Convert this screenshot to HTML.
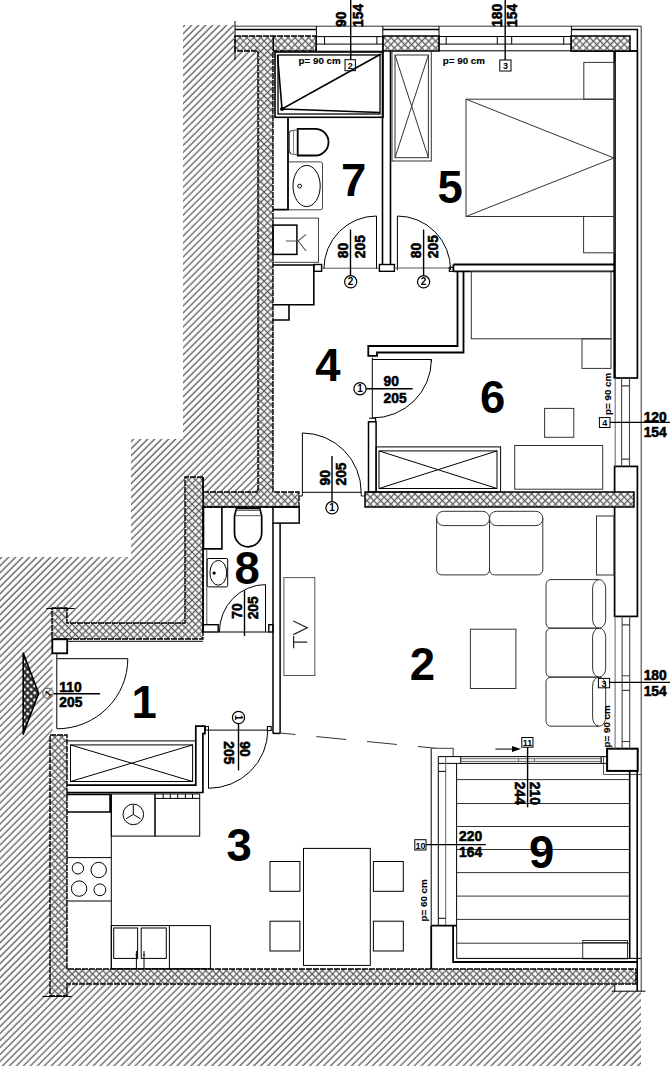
<!DOCTYPE html>
<html><head><meta charset="utf-8">
<style>
html,body{margin:0;padding:0;background:#fff;width:670px;height:1066px;overflow:hidden}
svg{display:block}
text{font-family:"Liberation Sans",sans-serif}
.rn{font-size:45.5px;font-weight:bold;fill:#000}
.dm{font-size:15px;font-weight:bold;fill:#000;stroke:#000;stroke-width:0.6px}
.pc{font-size:9.8px;font-weight:bold;fill:#000;stroke:#000;stroke-width:0.15px}
.bx{font-size:9px;font-weight:bold;fill:#000}
</style></head><body>
<svg width="670" height="1066" viewBox="0 0 670 1066">
<defs>
<pattern id="h" width="4.936" height="4.936" patternUnits="userSpaceOnUse" patternTransform="rotate(-45)">
<rect width="4.936" height="4.936" fill="#fff"/>
<line x1="-1" y1="0.28" x2="6" y2="0.28" stroke="#555" stroke-width="1.25"/><line x1="-1" y1="5.216" x2="6" y2="5.216" stroke="#555" stroke-width="1.25"/>
</pattern>
<pattern id="x" width="4.85" height="4.85" patternUnits="userSpaceOnUse" patternTransform="rotate(45)">
<rect width="4.85" height="4.85" fill="#fff"/>
<line x1="0" y1="2.4" x2="4.85" y2="2.4" stroke="#606060" stroke-width="1.35"/>
<line x1="2.4" y1="0" x2="2.4" y2="4.85" stroke="#606060" stroke-width="1.35"/>
</pattern>
<pattern id="dt" width="4.9" height="4.9" patternUnits="userSpaceOnUse" patternTransform="rotate(45)">
<rect width="4.9" height="4.9" fill="#fff"/>
<line x1="0" y1="2.45" x2="4.9" y2="2.45" stroke="#222" stroke-width="2.2"/>
<line x1="2.45" y1="0" x2="2.45" y2="4.9" stroke="#222" stroke-width="2.2"/>
</pattern>
</defs>

<!-- exterior hatch -->
<path d="M183,25 H234 V51 H258 V492 H185 V623 H67 V608 H52.5 V735 H50 V1066 H0 V557 H131 V439 H183 Z" fill="url(#h)"/>
<path d="M50,984.4 H614.8 V991.2 H641 V1066 H50 Z" fill="url(#h)"/>

<!-- right wall blocks -->
<g fill="#fff" stroke="#000" stroke-width="1.5">
<rect x="614.6" y="51" width="22.8" height="327" stroke-width="1.7"/>
<rect x="614.6" y="466.4" width="22.8" height="150" stroke-width="1.7"/>
<rect x="607.1" y="748.7" width="30.6" height="22.2" stroke-width="2"/>
</g>
<path d="M614.6,51 V378" stroke="#000" stroke-width="2.2"/>
<path d="M571,51 H637.4" stroke="#000" stroke-width="1.5"/>
<g fill="none" stroke="#000" stroke-width="1">
<path d="M615.2,378 V466.4 M615.1,616.4 V748.7" stroke="#666"/>
<path d="M621.6,378 V466.4 M629.5,378 V466.4 M621.6,385.9 H629.5 M621.6,459.1 H629.5" stroke="#444" stroke-width="1.1"/>
<path d="M622.1,616.4 V748.7 M629.7,616.4 V748.7 M622.1,624.9 H629.7 M622.1,675.7 H629.7 M622.1,690.4 H629.7 M622.1,741.5 H629.7" stroke="#444" stroke-width="1.1"/>
<path d="M603.5,757 V774.5 H641.6" stroke="#555"/>
<path d="M601.2,756.6 V763.4"/>
</g>
<path d="M629.7,771 V958.4 M637.2,771 V991.2" stroke="#000" stroke-width="1.6"/>
<g fill="url(#x)" stroke="#000" stroke-width="1.4" stroke-dasharray="6,1">
<path d="M235,36 H316 V51 H273 V492 H299 V507 H203 V639 H52 V608 H67 V623 H185 V477 H203 V492 H258 V51 H235 Z"/>
<path d="M383,36 H439 V51 H383 Z" stroke-dasharray="none" stroke-width="1.5"/>
<path d="M571,36 H630 V51 H571 Z" stroke-dasharray="none" stroke-width="1.5"/>
<path d="M365,492 H634 V507 H365 Z" stroke-dasharray="none" stroke-width="1.5"/>
<path d="M50,735 H67 V969 H636 V984 H67 V996 H50 Z"/>
</g>
<g fill="none" stroke="#000" stroke-width="1">
<!-- top exterior lines -->
<path d="M235,26.2 H641.2 V991" stroke="#333"/>
<path d="M235,29.5 H316 M383,29.5 H439 M571,29.5 H637.4 V51" stroke-width="1.5"/>
<path d="M235,21 V60"/>
<!-- window 1 -->
<path d="M316.4,26 V51 M382.8,26 V51 M316,36.6 H383 M316,44.1 H383 M316,51.2 H383 M324.6,36.6 V44.1 M376.9,36.6 V44.1"/>
<!-- window 2 -->
<path d="M439,26 V51 M571.4,26 V51 M439,36.5 H571 M439,44.1 H571 M439,50.8 H571 M446.2,36.5 V44.1 M497.3,36.5 V44.1 M511.7,36.5 V44.1 M563.7,36.5 V44.1"/>
</g>

<path d="M273.3,36 V51 M203,507 H299" stroke="#000" stroke-width="1.5"/>
<!-- ROOM 7 -->
<g fill="none" stroke="#000" stroke-width="1.6">
<rect x="275" y="52" width="108" height="65.3"/>
<rect x="278" y="55" width="102" height="59" stroke-width="1.3"/>
<path d="M277.5,55 L282,109 L381,54 M282,109 L380,112.5" stroke-width="1.6"/>
</g>
<circle cx="282" cy="109" r="2" fill="#000"/>
<g fill="none" stroke="#000" stroke-width="1.8">
<path d="M273,209.7 H288 V118"/>
<path d="M273,265 H313.8 V304.7 H273 M289,304.7 V320 H273" stroke-width="1.6"/>
</g>
<g fill="none" stroke="#000" stroke-width="1">
<!-- toilet -->
<path d="M297.7,128.8 H315.2 A13.3,13.35 0 0 1 315.2,155.5 H297.7 Z" stroke-width="1.8"/>
<path d="M297.7,130 L291.5,130.5 Q289.3,131 289.3,134 V150 Q289.3,153.5 291.5,154 L297.7,154.5" stroke="#555" stroke-width="1.2"/>
<path d="M293.5,131 V153.5" stroke="#888"/>
<!-- sink -->
<path d="M288.8,161.9 H320.5 Q322.5,161.9 322.5,164 V207.8 Q322.5,209.8 320.5,209.8 H288.8" stroke="#444"/>
<ellipse cx="306.6" cy="186" rx="13.6" ry="20.6"/>
<circle cx="299.6" cy="186.1" r="1.9"/>
<!-- washing machine -->
<rect x="273" y="218.1" width="45.5" height="44.2" stroke="#444"/>
<rect x="273" y="225.1" width="23.9" height="29.3" stroke-width="1.5"/>
<path d="M285.8,241 H298.2 L306,234.3 M298.2,241 L306,251" stroke="#555" stroke-width="1.1"/>
<!-- door room7 -->
<rect x="313.8" y="264.5" width="7.8" height="6.8" stroke-width="1.4"/>
<path d="M323.9,269 A52.6,53 0 0 1 376.5,216 V269"/>
<path d="M321.6,268.2 H379.4" stroke="#555"/>
<rect x="379.4" y="264.5" width="15" height="6.8" stroke-width="1.4"/>
<path d="M350.5,229.5 V275.7" stroke-width="1.4"/>
<circle cx="350.7" cy="281.8" r="6.1" stroke-width="1.2"/>
</g>
<g fill="none" stroke="#000" stroke-width="1.6">
<path d="M382.5,51 V264.5 M390.5,51 V264.5"/>
</g>
<text class="rn" x="340.9" y="196">7</text>

<!-- ROOM 5 -->
<g fill="none" stroke="#333" stroke-width="1">
<rect x="392" y="51" width="39.3" height="110"/>
<rect x="395" y="55" width="33.4" height="102.7"/>
<path d="M395,55 L428.4,157.7 M428.4,55 L395,157.7"/>
<rect x="466" y="99.2" width="148.5" height="117.3"/>
<path d="M466,99.2 L614,158 L466,216.5"/>
<rect x="583.8" y="62.4" width="30.7" height="36.8"/>
<rect x="583.6" y="216.5" width="30.9" height="36.3"/>
</g>
<g fill="none" stroke="#000" stroke-width="1">
<path d="M397.4,216 V270 M397.4,216 A53.2,54 0 0 1 450.6,270"/>
<path d="M394.4,268 H449.3" stroke="#555"/>
<rect x="449.3" y="267.3" width="4.1" height="4.1" stroke-width="1.1"/>
<path d="M423.6,229.5 V275.7" stroke-width="1.4"/>
<circle cx="423.6" cy="281.8" r="6.1" stroke-width="1.2"/>
</g>
<text class="rn" x="437.5" y="202.7">5</text>

<!-- ROOM 6 wall -->
<g fill="none" stroke="#000" stroke-width="1.8">
<path d="M453.4,264.5 H614 M453.4,271.4 H614 M453.4,264.5 V271.4"/>
<path d="M457.5,271.5 V346 H368.3 V355.8 H377 V352.5 H463.5 V271.5"/>
</g>
<g fill="none" stroke="#333" stroke-width="1">
<rect x="471.3" y="271.5" width="139.7" height="67.3"/>
<rect x="582" y="338.8" width="29" height="29.6"/>
<rect x="544.6" y="408.4" width="29.2" height="28.9"/>
<rect x="514.7" y="445.5" width="88" height="43.7"/>
</g>
<text class="rn" x="480" y="412.7">6</text>

<!-- ROOM 4 doors -->
<g fill="none" stroke="#000" stroke-width="1">
<path d="M372.3,357.5 V418"/>
<path d="M372.3,359.5 H431.4 V362 M431.4,359.5 A59,58.5 0 0 1 372.3,418"/>
<path d="M369,418.3 H375.6 V421.8" stroke-width="1.1"/>
<rect x="368.5" y="421.8" width="7.6" height="70.2" stroke-width="1.5"/>
<rect x="376.1" y="446.9" width="124.5" height="45.1"/>
<rect x="379" y="450.9" width="118" height="37.6"/>
<path d="M379,450.9 L497,488.5 M497,450.9 L379,488.5"/>
<circle cx="360" cy="388.7" r="6.1" stroke-width="1.2"/>
<path d="M366.1,388.7 H412.6" stroke-width="1.4"/>
<path d="M302.4,433 V492.3 M302.4,433 A58.8,59.3 0 0 1 361.2,492.3 M302.4,492.3 H361.2"/>
<path d="M299,496 H302.4 V492 M364.6,496 H361.2 V492" stroke-width="0.9"/>
<path d="M332,456 V501.7" stroke-width="1.4"/>
<circle cx="332" cy="507.8" r="6.1" stroke-width="1.2"/>
</g>
<text class="rn" x="315.2" y="380.5">4</text>

<!-- ROOM 8 -->
<g fill="none" stroke="#000" stroke-width="1.8">
<path d="M203.5,507 V548.9 H221.9 V507" stroke-width="1.6"/>
<path d="M273,523 V733.4 M280.1,523 V733.4" stroke-width="1.5"/>
<rect x="273" y="507" width="26.2" height="16.1" stroke-width="1.5"/>
<path d="M203.1,477 V632" stroke-width="1.6"/>
</g>
<g fill="none" stroke="#000" stroke-width="1">
<path d="M206.8,549 V624" stroke="#555"/>
<path d="M236.5,508.4 H259.8 L261.7,516 V533 A13.6,13.8 0 0 1 234.5,533 V516 Z" stroke-width="1.7"/>
<path d="M236,510.4 H260.2 M235,515.7 H261.2" stroke="#555"/>
<rect x="207.1" y="558.5" width="20.6" height="28.4" rx="1.5"/>
<ellipse cx="218.3" cy="572.8" rx="8.4" ry="12.4"/>
<circle cx="214.1" cy="573.1" r="1.2" fill="#000"/>
<rect x="202.7" y="624.7" width="15.5" height="7.3" stroke-width="1.4"/>
<rect x="268.8" y="624.7" width="4.2" height="7.3" stroke-width="1.4"/>
<path d="M219.4,632 A46.1,47.4 0 0 1 265.5,584.6 V632"/>
<path d="M218,632 H269"/>
<path d="M244.5,590.6 V636" stroke-width="1.4"/>
<rect x="283.9" y="577.6" width="30.9" height="97.9" stroke="#555"/>
</g>
<text class="rn" x="234.4" y="584.1">8</text>

<!-- ROOM 2 -->
<g fill="none" stroke="#333" stroke-width="1">
<path d="M436.6,518 V569.9 A5,5 0 0 0 441.6,574.9 H484.5 A5,5 0 0 0 489.5,569.9 V518"/>
<rect x="436.6" y="511.3" width="52.9" height="14.3" rx="7" ry="7"/>
<path d="M489.5,518 V569.9 A5,5 0 0 0 494.5,574.9 H537.8 A5,5 0 0 0 542.8,569.9 V518"/>
<rect x="489.5" y="511.3" width="53.3" height="14.3" rx="7" ry="7"/>
<rect x="596.5" y="516" width="17.5" height="59"/>
<path d="M599,579.6 H551 A5,5 0 0 0 546,584.6 V623.2 A5,5 0 0 0 551,628.2 H599"/>
<rect x="592.6" y="579.6" width="13.1" height="48.6" rx="6.5" ry="9"/>
<path d="M599,628.2 H551 A5,5 0 0 0 546,633.2 V672.1 A5,5 0 0 0 551,677.1 H599"/>
<rect x="592.6" y="628.2" width="13.1" height="48.9" rx="6.5" ry="9"/>
<path d="M599,677.1 H551 A5,5 0 0 0 546,682.1 V721.2 A5,5 0 0 0 551,726.2 H599"/>
<rect x="592.6" y="677.1" width="13.1" height="49.1" rx="6.5" ry="9"/>
<rect x="470.4" y="629.2" width="45.5" height="59.3"/>
<path d="M280,733 L437,748.4" stroke-dasharray="30,21" stroke-dashoffset="14.5"/>
</g>
<text class="rn" x="409.7" y="679.7">2</text>

<!-- ROOM 1 -->
<g fill="none" stroke="#000" stroke-width="1">
<rect x="52.3" y="639.3" width="14.9" height="14" stroke-width="1.8" fill="#fff"/>
<path d="M46.3,608.5 H74.7"/>
<path d="M67,641.3 H203"/>
<path d="M56.8,653 V728.8"/>
<path d="M57,658.7 H127.8 A70.8,70 0 0 1 57,728.8"/>
<circle cx="48" cy="693.3" r="5.2" stroke="#555"/>
<path d="M53.8,693.8 H100.1" stroke-width="1.4"/>
<path d="M67,740.9 H195.8" />
<rect x="70.5" y="744.9" width="122.1" height="36.6"/>
<path d="M70.5,744.9 L192.6,781.5 M192.6,744.9 L70.5,781.5"/>
<path d="M67,785.1 H195.8 V726.2 H204.9 V733.7 H202.9 V792.5 H67" stroke-width="1.7"/>
</g>
<path d="M23.2,653 L38.6,693.3 L23.2,734.1 Z" fill="url(#dt)" stroke="#000" stroke-width="1.6" stroke-linejoin="round"/>
<text class="rn" x="131.4" y="717.8">1</text>

<!-- ROOM 3 -->
<g fill="none" stroke="#000" stroke-width="1">
<path d="M111.3,794 V968.7 M67,857.6 H111.3 M67,901 H111.3"/>
<path d="M67,794.3 H110.1 V812 H67" stroke-width="1.7"/>
<circle cx="77.9" cy="868.3" r="5.7"/>
<circle cx="98.7" cy="870" r="7.7"/>
<circle cx="79.1" cy="888.6" r="7.7"/>
<circle cx="99.9" cy="889.8" r="5.9"/>
<rect x="111.3" y="794" width="43.7" height="42.1"/>
<circle cx="133.3" cy="814.4" r="10.3"/>
<path d="M133.3,814.4 V805 M133.3,814.4 L126,818.8 M133.3,814.4 L140.6,818.8"/>
<rect x="155" y="794" width="44.7" height="42.1"/>
<path d="M155,798.4 H199.7 M163.2,794 V798.4 M170.3,794 V798.4 M177.7,794 V798.4 M185.4,794 V798.4 M192.5,794 V798.4"/>
<rect x="111.3" y="925.6" width="99.1" height="43.1"/>
<path d="M169.4,925.6 V968.7"/>
<rect x="113.7" y="928" width="23.9" height="30.4"/>
<rect x="141.2" y="928" width="25.1" height="30.4"/>
<path d="M136.4,951 V968.7 M144,951 V968.7 M135.5,955 H137.5 M143,955 H145"/>
<rect x="270" y="861.5" width="29.9" height="29.8"/>
<rect x="270" y="921.2" width="29.9" height="29.8"/>
<rect x="303.5" y="848.4" width="66.8" height="117"/>
<rect x="373.4" y="861.5" width="29.9" height="29.8"/>
<rect x="373.4" y="921.2" width="29.9" height="29.8"/>
<path d="M208.5,730.1 H267.8 A59.3,58.2 0 0 1 208.5,788.3 V730.1"/>
<rect x="205.3" y="726.6" width="3.2" height="3.5"/>
<circle cx="238.5" cy="717.5" r="6.1" stroke-width="1.2"/>
<path d="M238.5,723.6 V770.4" stroke-width="1.4"/>
</g>
<g fill="none" stroke="#000" stroke-width="1.5">
<path d="M273,733.4 H280.1"/>
<rect x="267.4" y="726.5" width="3.8" height="4" stroke-width="1.1"/>
</g>
<text class="rn" x="226.4" y="861.2">3</text>

<!-- ROOM 9 balcony -->
<g fill="none" stroke="#000" stroke-width="1">
<path d="M431.2,748.4 V925.3"/>
<path d="M431.2,748.4 H453.2 V756.6" stroke="#666" stroke-width="1.3"/>
<path d="M438.3,756.6 H607.1 M438.3,763.4 H607.1" />
<path d="M460.7,756.6 V763.4"/>
<path d="M460.7,758.7 H601 M460.7,761.4 H601 M518.5,758.7 V761.4 M534.5,758.7 V761.4 M601,756.6 V763.4" stroke="#555" stroke-width="0.9"/>
<path d="M438.3,756.6 V925.3 M456.6,763.4 V925.3"/>
<path d="M445.7,756.6 V925.3" stroke="#666"/>
<path d="M438.3,771.4 H445.7 M438.3,918.3 H445.7"/>
<path d="M457,779.6 H629.6 M457,803.5 H629.6 M457,826.5 H629.6 M457,849.5 H629.6 M457,872.6 H629.6 M457,896.1 H629.6 M457,919.4 H629.6 M457,943.2 H629.6" stroke="#333"/>
<rect x="582.7" y="940.5" width="44.8" height="18.3" stroke="#333"/>
<path d="M583,942.5 H627.5" stroke="#333"/>
<path d="M527.6,747 V807.3" stroke-width="1.4"/>
<rect x="521.8" y="737.5" width="11.2" height="9.7"/>
<path d="M495.4,749.1 H515"/>
<rect x="414.8" y="839.7" width="11.2" height="10.3"/>
<path d="M426,844.6 H485.9" stroke-width="1.4"/>
<path d="M611.8,991.2 H645.4 M614.8,984.4 V991.2"/>
<path d="M42.5,996.5 H71.6"/>
</g>
<g fill="none" stroke="#000" stroke-width="1.8">
<path d="M431.2,925.6 H456.7 M431.2,925.6 V969 M453.1,925.6 V962 H637.2"/>
<path d="M456.7,925.6 V958.4 H641" stroke-width="1"/>
</g>
<path d="M521,749.1 L512,746 V752 Z" fill="#000"/>
<text class="rn" x="529" y="868">9</text>

<!-- dimension texts -->
<g class="dm">
<text transform="translate(346.2,26.9) rotate(-90) scale(0.92,1)">90</text>
<text transform="translate(363.3,26.9) rotate(-90) scale(0.92,1)">154</text>
<text transform="translate(502.1,26.9) rotate(-90) scale(0.92,1)">180</text>
<text transform="translate(517.2,26.9) rotate(-90) scale(0.92,1)">154</text>
<text transform="translate(348.4,258.2) rotate(-90) scale(0.92,1)">80</text>
<text transform="translate(364.5,258.2) rotate(-90) scale(0.92,1)">205</text>
<text transform="translate(421.1,258.2) rotate(-90) scale(0.92,1)">80</text>
<text transform="translate(437.5,258.2) rotate(-90) scale(0.92,1)">205</text>
<text transform="translate(383.6,386.2) scale(0.92,1)">90</text>
<text transform="translate(383.6,402.9) scale(0.92,1)">205</text>
<text transform="translate(329.8,485.5) rotate(-90) scale(0.92,1)">90</text>
<text transform="translate(345.6,485.5) rotate(-90) scale(0.92,1)">205</text>
<text transform="translate(242.1,618.7) rotate(-90) scale(0.92,1)">70</text>
<text transform="translate(258.2,619.3) rotate(-90) scale(0.92,1)">205</text>
<text transform="translate(59.3,691.7) scale(0.92,1)">110</text>
<text transform="translate(59.3,706.9) scale(0.92,1)">205</text>
<text transform="translate(240,741.3) rotate(90) scale(0.92,1)">90</text>
<text transform="translate(223.9,741.3) rotate(90) scale(0.92,1)">205</text>
<text transform="translate(643.7,421.8) scale(0.92,1)">120</text>
<text transform="translate(643.7,436.9) scale(0.92,1)">154</text>
<text transform="translate(643.7,680.3) scale(0.92,1)">180</text>
<text transform="translate(643.7,695.8) scale(0.92,1)">154</text>
<text transform="translate(514.8,781.8) rotate(90) scale(0.92,1)">244</text>
<text transform="translate(530.3,781.8) rotate(90) scale(0.92,1)">210</text>
<text transform="translate(459.1,840.9) scale(0.92,1)">220</text>
<text transform="translate(459.1,856.7) scale(0.92,1)">164</text>
</g>
<g class="pc">
<text x="298.5" y="64.3">p= 90 cm</text>
<text x="442.8" y="64.3">p= 90 cm</text>
<text transform="translate(611.3,415) rotate(-90)">p= 90 cm</text>
<text transform="translate(610.2,747.5) rotate(-90)">p= 90 cm</text>
<text transform="translate(427.4,921.5) rotate(-90)">p= 60 cm</text>
</g>
<g fill="none" stroke="#000" stroke-width="1">
<rect x="345" y="59.7" width="10.4" height="11"/>
<rect x="499.8" y="60" width="11.2" height="11"/>
<rect x="599.4" y="417.6" width="10.6" height="9.9"/>
<path d="M610,422.4 H670" stroke-width="1.4"/>
<rect x="598.4" y="678.4" width="11.2" height="9.4"/>
<path d="M609.7,682.4 H670" stroke-width="1.4"/>
<path d="M350.7,0 V59.7 M505.2,0 V60" stroke-width="1.4"/>
</g>
<g class="bx" text-anchor="middle">
<text x="350.2" y="68.5">2</text>
<text x="505.4" y="69">3</text>
<text x="604.7" y="426">4</text>
<text x="604" y="686.5">3</text>
<text x="527.4" y="746">11</text>
<text x="420.4" y="848.5">10</text>
<text x="350.5" y="285.4" style="font-size:10px">2</text>
<text x="423.6" y="285.4" style="font-size:10px">2</text>
<text x="360" y="392.3" style="font-size:10px">1</text>
<text x="332" y="511.4" style="font-size:10px">1</text>
<text transform="translate(48,693.3) rotate(-45)" x="0" y="3.3" style="font-size:9px">1</text>
<text transform="translate(238.5,717.5) rotate(90)" x="0" y="3.5" style="font-size:10px">1</text>
</g>
<path d="M293.3,621 L307.3,627.8 L293.3,634.6 M293.6,636 V648.3 M293.6,642.2 H307.3" fill="none" stroke="#222" stroke-width="1.2"/>
</svg>
</body></html>
